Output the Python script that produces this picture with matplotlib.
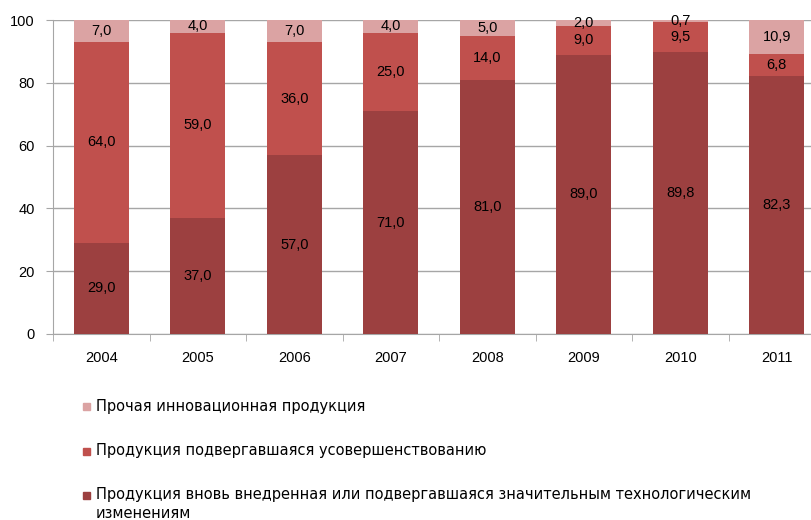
import numpy as np
import matplotlib.pyplot as plt

plt.rcParams['font.family'] = ['Liberation Sans', 'DejaVu Sans']

# Data
years = ['2004', '2005', '2006', '2007', '2008', '2009', '2010', '2011']
new_prod = [29.0, 37.0, 57.0, 71.0, 81.0, 89.0, 89.8, 82.3]
improved = [64.0, 59.0, 36.0, 25.0, 14.0, 9.0, 9.5, 6.8]
other = [7.0, 4.0, 7.0, 4.0, 5.0, 2.0, 0.7, 10.9]

labels = ['Прочая инновационная продукция',
          'Продукция подвергавшаяся усовершенствованию',
          'Продукция вновь внедренная или подвергавшаяся значительным технологическим\nизменениям']

c_dark = '#9c4040'
c_mid = '#c0504d'
c_light = '#dba3a3'

fig = plt.figure(figsize=(8.11, 5.2), dpi=100)
ax = fig.add_axes([0.0654, 0.3577, 0.952, 0.6038])

x = np.arange(len(years))
w = 0.57
b1 = np.array(new_prod)
b2 = b1 + np.array(improved)

ax.bar(x, new_prod, w, color=c_dark, zorder=3)
ax.bar(x, improved, w, bottom=b1, color=c_mid, zorder=3)
ax.bar(x, other, w, bottom=b2, color=c_light, zorder=3)

def fmt(v):
    return f'{v:.1f}'.replace('.', ',')

for i in range(len(years)):
    ax.text(x[i], new_prod[i] / 2, fmt(new_prod[i]), ha='center', va='center', fontsize=10.5, zorder=4)
    ax.text(x[i], b1[i] + improved[i] / 2, fmt(improved[i]), ha='center', va='center', fontsize=10.5, zorder=4)
    ax.text(x[i], b2[i] + other[i] / 2, fmt(other[i]), ha='center', va='center', fontsize=10.5, zorder=4)

ax.set_xlim(-0.5, len(years) - 0.5)
ax.set_ylim(0, 100)
ax.set_yticks(range(0, 101, 20))
ax.yaxis.grid(True, color='#a6a6a6', lw=1, zorder=0)
ax.set_xticks(x)
ax.set_xticklabels(years, fontsize=10.5)
ax.set_xticks(np.arange(-0.5, len(years), 1), minor=True)
ax.tick_params(axis='x', which='major', length=0, pad=12)
ax.tick_params(axis='x', which='minor', length=5, color='#a6a6a6', direction='out')
ax.tick_params(axis='y', length=5, color='#a6a6a6', labelsize=10.5, pad=8)
for s in ['top', 'right']:
    ax.spines[s].set_visible(False)
for s in ['left', 'bottom']:
    ax.spines[s].set_color('#a6a6a6')

# legend drawn by hand so the square sits on the first text line
leg_rows = [406, 451, 495]  # pixel rows from top
for lab, col, row in zip(labels, [c_light, c_mid, c_dark], leg_rows):
    y = 1 - row / 520
    fig.patches.append(plt.Rectangle((83 / 811, y - 3.5 / 520), 7 / 811, 7 / 520,
                                     transform=fig.transFigure, color=col))
    fig.text(96 / 811, y + 7.5 / 520, lab, ha='left', va='top', fontsize=10.5,
             family='DejaVu Sans', linespacing=1.3)

fig.savefig('out.png', dpi=100)
